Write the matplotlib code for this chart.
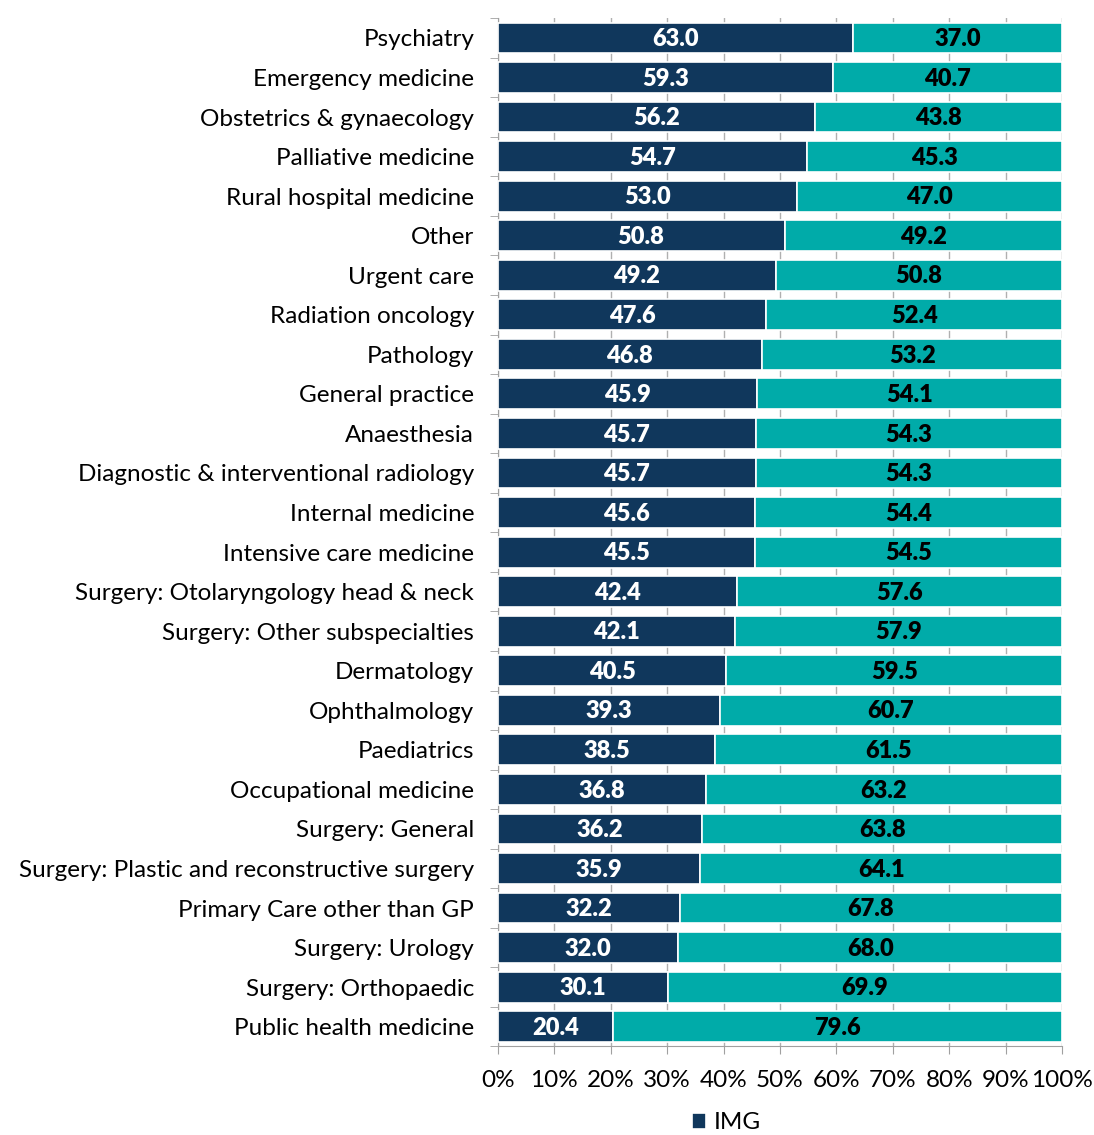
import numpy as np
import matplotlib.pyplot as plt
from matplotlib.ticker import PercentFormatter

plt.rcParams['font.family'] = ['Lato', 'DejaVu Sans']

# specialties, top to bottom as in the chart
specialties = [
    "Psychiatry", "Emergency medicine", "Obstetrics & gynaecology",
    "Palliative medicine", "Rural hospital medicine", "Other", "Urgent care",
    "Radiation oncology", "Pathology", "General practice", "Anaesthesia",
    "Diagnostic & interventional radiology", "Internal medicine",
    "Intensive care medicine", "Surgery: Otolaryngology head & neck",
    "Surgery: Other subspecialties", "Dermatology", "Ophthalmology",
    "Paediatrics", "Occupational medicine", "Surgery: General",
    "Surgery: Plastic and reconstructive surgery",
    "Primary Care other than GP", "Surgery: Urology", "Surgery: Orthopaedic",
    "Public health medicine",
]
img = [63.0, 59.3, 56.2, 54.7, 53.0, 50.8, 49.2, 47.6, 46.8, 45.9, 45.7,
       45.7, 45.6, 45.5, 42.4, 42.1, 40.5, 39.3, 38.5, 36.8, 36.2, 35.9,
       32.2, 32.0, 30.1, 20.4]
other = [37.0, 40.7, 43.8, 45.3, 47.0, 49.2, 50.8, 52.4, 53.2, 54.1, 54.3,
         54.3, 54.4, 54.5, 57.6, 57.9, 59.5, 60.7, 61.5, 63.2, 63.8, 64.1,
         67.8, 68.0, 69.9, 79.6]

navy = "#10375c"
teal = "#00aba9"

fig = plt.figure(figsize=(10.94, 11.35), dpi=100)
ax = fig.add_axes([0.455, 0.078, 0.516, 0.906])

y = np.arange(len(specialties))
b1 = ax.barh(y, img, height=0.78, color=navy, edgecolor="white", linewidth=1.2,
             label="IMG", zorder=3)
b2 = ax.barh(y, other, left=img, height=0.78, color=teal, edgecolor="white",
             linewidth=1.2, zorder=3)

for i in range(len(y)):
    ax.text(img[i] / 2, y[i] + 0.03, f"{img[i]:.1f}", ha="center", va="center",
            color="white", fontsize=17, fontweight="heavy", zorder=4)
    ax.text(img[i] + other[i] / 2, y[i] + 0.03, f"{other[i]:.1f}", ha="center",
            va="center", color="black", fontsize=17, fontweight="heavy", zorder=4)

ax.set_xlim(0, 100)
ax.set_ylim(len(y) - 0.5, -0.5)
ax.set_xticks(np.arange(0, 101, 10))
ax.xaxis.set_major_formatter(PercentFormatter(decimals=0))
ax.set_yticks(y)
ax.set_yticklabels(specialties)
ax.set_yticks(np.arange(-0.5, len(y)), minor=True)
ax.tick_params(axis="y", which="major", length=0, pad=17, labelsize=17.5)
ax.tick_params(axis="y", which="minor", length=6, color="#a0a0a0")
ax.tick_params(axis="x", length=6, color="#a0a0a0", labelsize=17.5, pad=11)
ax.grid(axis="x", color="#b0b0b0", linewidth=1, zorder=0)

for side in ["top", "right"]:
    ax.spines[side].set_visible(False)
for side in ["left", "bottom"]:
    ax.spines[side].set_color("#a0a0a0")

ax.legend(handles=[b1], loc="upper center", bbox_to_anchor=(0.405, -0.05),
          frameon=False, fontsize=17.5, handlelength=0.6, handleheight=0.6,
          handletextpad=0.3, borderpad=0.1)

fig.savefig("out.png", dpi=100)
